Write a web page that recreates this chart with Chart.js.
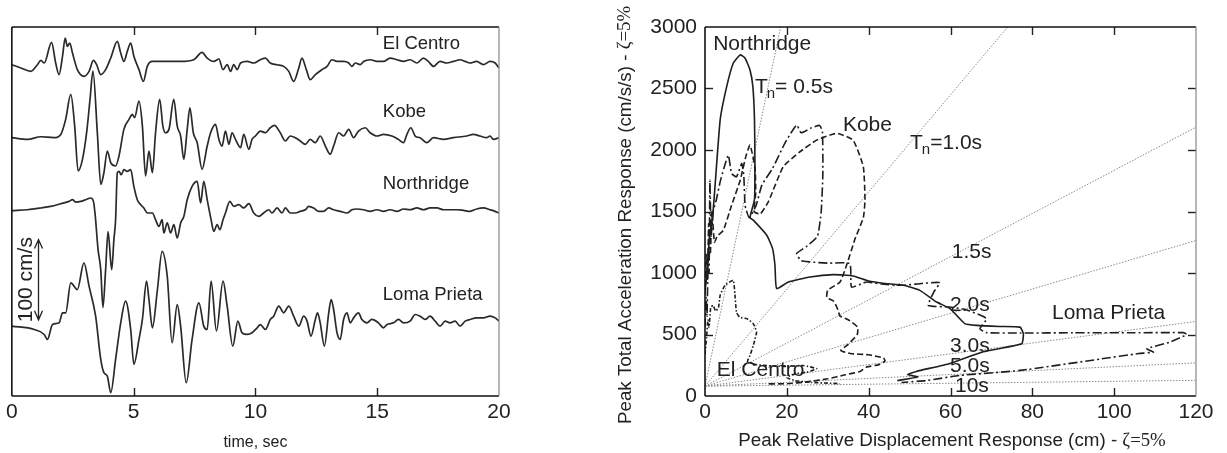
<!DOCTYPE html>
<html>
<head>
<meta charset="utf-8">
<script src="https://cdn.jsdelivr.net/npm/chart.js@4.4.1/dist/chart.umd.min.js"></script>
<style>
  html, body { margin: 0; padding: 0; background: #fff; }
  #wrap { position: relative; width: 1227px; height: 453px; overflow: hidden; }
  #velChart { position: absolute; left: 0; top: 0; width: 600px; height: 453px; }
  #specChart { position: absolute; left: 600px; top: 0; width: 627px; height: 453px; }
</style>
</head>
<body>
<div id="wrap">
  <canvas id="velChart" width="600" height="453"></canvas>
  <canvas id="specChart" width="627" height="453"></canvas>
</div>
<script>
// ---------- ground velocity records: [time (s), velocity (cm/s)] ----------
const recordNames = ['El Centro', 'Kobe', 'Northridge', 'Loma Prieta'];
const recordOffsets = [413, 322, 231, 85];   // vertical stacking offsets (cm/s)
const timeTicks = [0, 5, 10, 15, 20];

const elCentroVel = [
  [0,0],[0.37,-4.1],[0.78,-8.3],[1.05,0],[1.19,5.4],[1.33,2.1],[1.63,27.8],[1.80,2.1],[1.94,-12.4],
  [2.08,10.4],[2.19,33.2],[2.28,22.8],[2.38,27.0],[2.49,14.5],[2.69,-6.2],[2.96,-14.5],[3.17,-8.3],
  [3.35,5.4],[3.48,0],[3.65,-12.4],[3.85,-6.2],[4.06,8.3],[4.33,29.0],[4.47,14.5],[4.60,4.1],
  [4.74,16.6],[4.88,27.0],[5.01,10.4],[5.22,-6.2],[5.40,-20.7],[5.56,-2.1],[5.77,4.1],[6.38,4.1],
  [6.93,4.1],[7.47,6.2],[7.81,15.4],[8.02,8.3],[8.29,4.1],[8.50,7.1],[8.67,-6.2],[8.84,0],[8.98,-8.3],
  [9.11,0],[9.25,-6.2],[9.39,2.1],[9.66,4.1],[9.93,2.1],[10.20,6.2],[10.41,8.3],[10.61,2.1],[10.89,0],
  [11.16,-2.1],[11.37,-8.3],[11.57,-20.7],[11.78,-4.1],[11.91,8.3],[12.09,-6.2],[12.25,-18.7],
  [12.46,-12.4],[12.73,-6.2],[12.94,-2.1],[13.14,6.2],[13.35,4.1],[13.62,4.1],[13.83,2.1],[13.96,-2.1],
  [14.10,2.1],[14.30,0],[14.44,4.1],[14.71,6.2],[14.99,4.1],[15.26,4.1],[15.53,8.3],[15.81,6.2],
  [16.08,4.1],[16.35,6.2],[16.63,2.1],[16.90,8.3],[17.10,4.1],[17.31,-2.1],[17.58,4.1],[17.85,2.1],
  [18.13,4.1],[18.40,6.2],[18.61,4.1],[18.81,2.1],[19.08,4.1],[19.36,0],[19.63,4.1],[19.84,2.1],[20.00,-4.1]
];

const kobeVel = [
  [0,0],[0.64,-2.1],[1.19,1.2],[1.73,0],[2.01,4.1],[2.21,22.8],[2.42,53.9],[2.58,14.5],[2.72,-41.5],
  [2.90,-27.0],[3.07,6.2],[3.21,47.7],[3.33,82.9],[3.51,6.2],[3.65,-58.1],[3.78,-43.6],[3.92,-16.6],
  [4.06,-31.1],[4.26,-35.3],[4.40,-22.8],[4.60,10.4],[4.81,22.8],[4.95,29.0],[5.04,24.9],[5.22,45.6],
  [5.36,14.5],[5.49,-47.7],[5.63,-16.6],[5.77,-43.6],[5.90,6.2],[6.07,47.7],[6.20,14.5],[6.31,6.2],
  [6.45,10.4],[6.65,47.7],[6.79,14.5],[6.93,2.1],[7.06,-26.9],[7.20,10.4],[7.31,37.3],[7.45,6.2],
  [7.61,-6.2],[7.81,-39.4],[8.02,-10.4],[8.16,6.2],[8.36,16.6],[8.50,-2.1],[8.63,-10.4],[8.77,8.3],
  [8.91,-8.3],[9.04,6.2],[9.18,-2.1],[9.39,-12.4],[9.52,4.1],[9.73,-14.5],[9.86,-2.1],[10.00,2.1],
  [10.20,8.3],[10.41,6.2],[10.61,12.4],[10.78,15.4],[11.02,6.2],[11.23,-4.1],[11.43,2.1],[11.64,0],
  [11.84,-4.1],[12.05,-8.3],[12.25,-2.1],[12.46,-6.2],[12.66,2.1],[12.87,-10.4],[13.07,-20.7],
  [13.21,-10.4],[13.42,6.2],[13.62,2.1],[13.83,10.4],[14.03,0],[14.23,8.3],[14.51,12.4],[14.71,6.2],
  [14.99,2.1],[15.26,4.1],[15.60,2.1],[15.87,-2.1],[16.08,-6.2],[16.22,4.1],[16.38,12.4],[16.56,2.1],
  [16.76,0],[17.04,-6.2],[17.31,0],[17.72,-2.1],[18.13,0],[18.67,2.1],[18.95,4.1],[19.22,2.1],
  [19.49,0],[19.63,2.1],[19.77,-2.1],[20.00,0]
];

const northridgeVel = [
  [0,0],[0.64,1.2],[1.19,3.4],[1.60,5.4],[2.01,8.7],[2.35,11.6],[2.49,13.7],[2.62,10.8],[2.83,11.6],
  [3.03,13.7],[3.24,15.8],[3.35,11.6],[3.42,-5],[3.54,-48.6],[3.65,-73.5],[3.74,-120.8],[3.85,-73.5],
  [3.95,-26.2],[4.10,-73.5],[4.19,-36.1],[4.26,-11.2],[4.33,47.3],[4.40,49],[4.49,44.8],[4.60,51.1],
  [4.74,49],[4.88,51.1],[5.01,30.3],[5.15,13.7],[5.29,7.5],[5.42,3.4],[5.56,-2.9],[5.77,-2.9],
  [5.90,-11.2],[6.04,-19.6],[6.17,-11.2],[6.24,-27.8],[6.38,-15.3],[6.52,-27.8],[6.65,-17.4],
  [6.79,-34],[6.93,-15.3],[7.06,-7.1],[7.20,13.7],[7.40,30.3],[7.61,36.5],[7.75,9.6],[7.88,36.5],
  [8.02,13.7],[8.18,-11.2],[8.29,-25.8],[8.43,-17.4],[8.54,-23.7],[8.67,-11.2],[8.77,-2.9],[8.95,11.6],
  [9.11,5.4],[9.32,7.5],[9.52,3.4],[9.73,8.7],[9.93,-2.9],[10.14,-7.1],[10.34,-2.9],[10.55,1.2],
  [10.68,-2.9],[10.89,3.4],[11.09,-2.9],[11.23,3.4],[11.43,-2.9],[11.64,-2.9],[11.84,-0.8],[12.05,1.2],
  [12.19,5.4],[12.39,3.4],[12.60,-0.8],[12.80,-0.8],[13.01,3.4],[13.21,1.2],[13.48,-0.8],[13.76,-2.9],
  [13.96,1.2],[14.17,2.1],[14.44,1.2],[14.71,-0.8],[14.99,1.2],[15.26,-0.8],[15.53,1.2],[15.81,-0.8],
  [16.08,2.1],[16.35,1.2],[16.63,3.4],[16.90,1.2],[17.17,3.4],[17.45,3.4],[17.72,1.2],[17.99,1.2],
  [18.27,1.2],[18.54,0.4],[18.81,-0.8],[19.08,2.1],[19.36,3.4],[19.63,1.2],[19.84,-0.8],[20.00,-2.9]
];

const lomaPrietaVel = [
  [0,2.1],[0.92,-2.1],[1.33,-8.3],[1.46,-14.5],[1.67,4.1],[1.94,6.2],[2.08,18.7],[2.21,18.7],[2.42,56],
  [2.69,47.7],[2.96,80.9],[3.17,51.9],[3.44,14.5],[3.65,-39.4],[3.78,-56],[3.92,-60.2],[4.06,-80.9],
  [4.26,-39.4],[4.47,6.2],[4.67,33.2],[4.88,-2.1],[5.01,-45.6],[5.22,-14.5],[5.36,10.4],[5.53,58.1],
  [5.63,35.3],[5.77,0],[5.97,45.6],[6.17,95.4],[6.38,64.3],[6.58,-18.7],[6.79,29],[6.93,2.1],
  [7.16,-68.5],[7.40,-14.5],[7.68,31.1],[7.88,2.1],[8.02,-2.1],[8.18,58.1],[8.40,-4],[8.67,58.1],
  [8.84,27],[9.07,-22.8],[9.28,8.3],[9.45,-6.2],[9.66,-8.3],[9.86,-6.2],[10.07,0],[10.20,4.1],
  [10.41,-2.1],[10.61,10.4],[10.75,14.5],[10.96,27],[11.16,18.7],[11.37,27],[11.57,14.5],[11.78,2.1],
  [11.98,14.5],[12.12,8.3],[12.28,-10.4],[12.46,10.4],[12.55,18.7],[12.66,6.2],[12.83,-22.8],
  [13.01,18.7],[13.11,35.3],[13.21,22.8],[13.35,-6.2],[13.48,-14.5],[13.62,10.4],[13.76,18.7],
  [13.89,6.2],[14.03,12.4],[14.23,18.7],[14.37,10.4],[14.58,6.2],[14.78,10.4],[15.05,6.2],[15.26,0],
  [15.40,4.1],[15.67,6.2],[15.87,10.4],[16.08,6.2],[16.35,8.3],[16.56,16.6],[16.76,14.5],[16.97,10.4],
  [17.17,14.5],[17.38,8.3],[17.58,2.1],[17.79,8.3],[17.99,6.2],[18.20,8.3],[18.40,2.1],[18.61,8.3],
  [18.81,10.4],[19.08,12.4],[19.36,12.4],[19.63,14.5],[19.84,12.4],[20.00,8.3]
];

// ---------- response spectra: [Sd (cm), Sa (cm/s/s)] ----------
const northridgeSpec = [
  [0,850],[0.5,1000],[1.0,1250],[2.0,1510],[3.7,2243],[5.3,2515],[6.9,2705],[8.6,2773],[9.8,2746],
  [11.0,2651],[11.7,2515],[12.1,2243],[12.2,1891],[12.1,1600],[11.0,1450],[11.8,1430],[15.1,1307],
  [16.5,1200],[17.1,1063],[17.5,873],[20.4,927],[25.7,968],[31.4,987],[36.2,976],[40.0,935],[44.0,915],
  [48.5,900],[52.5,859],[56.6,764],[59.9,710],[63.5,588],[66.4,574],[72.0,565],[77.0,560],[77.8,506],
  [77.4,425],[68.0,360],[59.9,265],[51.7,200],[49.5,175],[52.0,155],[47.0,125]
];

const kobeSpec = [
  [0,820],[0.3,1150],[0.6,950],[0.9,1400],[1.3,1150],[1.7,1500],[2.3,1250],[3.0,1300],[4.5,1348],
  [6.5,1550],[8.6,1754],[10.0,1950],[11.0,2040],[12.2,1863],[12.4,1650],[12.0,1500],[13.5,1480],
  [15.5,1580],[19.1,1863],[23.0,1980],[27.3,2080],[32.2,2135],[36.2,2080],[38.7,1863],[39.1,1592],
  [38.7,1450],[36.7,1280],[34.6,1063],[33.0,927],[30.0,860],[29.8,800],[31.5,770],[32.5,700],
  [33.0,650],[35.0,620],[37.3,560],[37.2,500],[35.0,420],[33.2,370],[35.5,345],[40.0,335],[43.6,310],
  [44.0,285],[42.5,255],[39.5,235],[37.9,200],[34.0,170],[30.0,140],[25.0,115],[20.0,100],[15.0,98]
];

const lomaPrietaSpec = [
  [0,560],[0.3,800],[0.5,650],[0.8,1200],[1.0,1000],[1.2,1754],[1.5,1300],[2.0,1500],[2.8,1600],
  [3.7,1741],[4.6,1850],[5.7,1958],[6.5,1809],[7.7,1782],[9.0,1891],[9.5,1782],[9.8,1550],[10.8,1450],
  [12.5,1550],[13.9,1714],[16.5,1850],[19.6,2060],[22.4,2203],[23.5,2140],[26.0,2180],[28.0,2200],
  [28.7,2150],[28.8,1800],[28.4,1500],[27.5,1300],[25.0,1220],[22.4,1158],[23.5,1100],[25.7,1090],
  [30.0,1080],[35.4,1076],[35.8,886],[39.5,927],[43.0,910],[48.4,900],[53.0,915],[57.4,922],[56.0,850],
  [54.6,737],[59.9,723],[64.0,700],[68.8,629],[67.2,547],[68.8,515],[77.0,512],[90.0,514],[105.0,514],
  [116.9,515],[117.7,500],[113.6,438],[108.0,384],[109.6,357],[106.0,345],[96.5,300],[77.0,208],
  [62.3,167],[54.2,126],[48.0,110]
];

const elCentroSpec = [
  [0,340],[0.4,480],[0.7,620],[1.0,560],[1.4,720],[2.0,737],[2.6,690],[3.3,720],[3.7,818],[4.9,900],
  [6.9,940],[7.3,830],[7.7,680],[8.5,640],[10.2,629],[11.8,588],[12.6,520],[12.2,460],[11.8,411],
  [11.0,330],[10.4,280],[12.5,255],[16.0,245],[20.0,240],[24.0,248],[27.3,221],[24.9,194],[22.0,180],
  [20.0,150],[22.0,125],[26.0,110],[30.0,105],[33.0,100]
];

// constant-period guide lines
const periods = [0.5, 1.0, 1.5, 2.0, 3.0, 5.0, 10];
const periodLabels = ['T_n= 0.5s', 'T_n=1.0s', '1.5s', '2.0s', '3.0s', '5.0s', '10s'];
const guideOriginSa = 80;
const sdTicks = [0, 20, 40, 60, 80, 100, 120];
const saTicks = [0, 500, 1000, 1500, 2000, 2500, 3000];

// ---------- shared drawing helpers ----------
const SANS = "'Liberation Sans', Arial, Helvetica, sans-serif";
const SERIF = "'Liberation Serif', 'Times New Roman', serif";
const INK = '#222';
Chart.defaults.font.family = SANS;
Chart.defaults.color = INK;

const toXY = arr => arr.map(p => ({ x: p[0], y: p[1] }));
const plainNumber = v => String(v);

// frame and inward tick marks on all four sides
const framePlugin = {
  id: 'framePlugin',
  afterDatasetsDraw(chart, args, opts) {
    const { ctx, chartArea: a, scales } = chart;
    const seg = (x1, y1, x2, y2) => { ctx.beginPath(); ctx.moveTo(x1, y1); ctx.lineTo(x2, y2); ctx.stroke(); };
    ctx.save();
    ctx.strokeStyle = INK;
    ctx.lineWidth = 1.4;
    const tl = 8;
    scales.x.ticks.forEach(t => {
      const px = Math.round(scales.x.getPixelForValue(t.value)) + 0.5;
      if (px < a.left + 2 || px > a.right - 2) return;
      seg(px, a.bottom, px, a.bottom - tl);
      seg(px, a.top, px, a.top + tl);
    });
    if (opts.yTicks) {
      scales.y.ticks.forEach(t => {
        const py = Math.round(scales.y.getPixelForValue(t.value)) + 0.5;
        if (py < a.top + 2 || py > a.bottom - 2) return;
        seg(a.left, py, a.left + tl, py);
        seg(a.right, py, a.right - tl, py);
      });
    }
    ctx.lineWidth = 1.6;
    ctx.strokeStyle = '#111';
    seg(a.left, a.top, a.right, a.top);
    seg(a.left, a.top, a.left, a.bottom);
    seg(a.left, a.bottom, a.right, a.bottom);
    ctx.lineWidth = 1.2;
    ctx.strokeStyle = '#888';
    seg(a.right, a.top, a.right, a.bottom);
    ctx.restore();
  }
};

// ---------- velocity chart ----------
const velRecords = [elCentroVel, kobeVel, northridgeVel, lomaPrietaVel];
const velLabelAnchor = { t: 15.23, y: [439, 354, 265, 126] };
const scaleBar = { t: 1.09, from: 95, size: 100, labelT: 0.59 };

const velAnnotations = {
  id: 'velAnnotations',
  afterDatasetsDraw(chart) {
    const { ctx, scales: { x, y } } = chart;
    ctx.save();
    ctx.fillStyle = INK;
    ctx.font = `18.5px ${SANS}`;
    ctx.textBaseline = 'middle';
    ctx.textAlign = 'left';
    recordNames.forEach((n, i) => ctx.fillText(n, x.getPixelForValue(velLabelAnchor.t), y.getPixelForValue(velLabelAnchor.y[i])));

    // 100 cm/s scale arrow
    const ax = Math.round(x.getPixelForValue(scaleBar.t)) + 0.5;
    const y1 = y.getPixelForValue(scaleBar.from);
    const y2 = y.getPixelForValue(scaleBar.from + scaleBar.size);
    ctx.strokeStyle = INK;
    ctx.lineWidth = 1.3;
    ctx.beginPath();
    ctx.moveTo(ax, y1); ctx.lineTo(ax, y2);
    ctx.moveTo(ax - 4, y2 + 9); ctx.lineTo(ax, y2); ctx.lineTo(ax + 4, y2 + 9);
    ctx.moveTo(ax - 4, y1 - 9); ctx.lineTo(ax, y1); ctx.lineTo(ax + 4, y1 - 9);
    ctx.stroke();

    ctx.translate(x.getPixelForValue(scaleBar.labelT), (y1 + y2) / 2);
    ctx.rotate(-Math.PI / 2);
    ctx.textAlign = 'center';
    ctx.font = `21px ${SANS}`;
    ctx.fillText(scaleBar.size + ' cm/s', 0, 0);
    ctx.restore();
  }
};

new Chart(document.getElementById('velChart'), {
  type: 'scatter',
  data: {
    datasets: velRecords.map((rec, i) => ({
      label: recordNames[i],
      data: rec.map(p => ({ x: p[0], y: p[1] + recordOffsets[i] })),
      showLine: true,
      borderColor: '#2a2a2a',
      borderWidth: 1.7,
      pointRadius: 0,
      cubicInterpolationMode: 'monotone',
      fill: false
    }))
  },
  options: {
    responsive: false,
    animation: false,
    devicePixelRatio: 1,
    layout: { padding: { left: 11, right: 101, top: 27, bottom: 0 } },
    plugins: { legend: { display: false }, tooltip: { enabled: false }, framePlugin: { yTicks: false } },
    scales: {
      x: {
        type: 'linear', min: timeTicks[0], max: timeTicks[timeTicks.length - 1],
        afterBuildTicks: s => { s.ticks = timeTicks.map(v => ({ value: v })); },
        ticks: { font: { size: 21, lineHeight: 1 }, color: INK, padding: 6, maxRotation: 0, callback: plainNumber },
        grid: { display: false, drawTicks: false },
        border: { display: false },
        title: { display: true, text: 'time, sec', font: { size: 16, lineHeight: 1 }, color: INK, padding: { top: 0, bottom: 2 } },
        afterFit: s => { s.height = 57; }
      },
      y: { type: 'linear', min: 0, max: 460, display: false }
    }
  },
  plugins: [framePlugin, velAnnotations]
});

// ---------- response spectra chart ----------
const spectra = [
  { name: 'Northridge', data: northridgeSpec, dash: [] },
  { name: 'Kobe', data: kobeSpec, dash: [6, 3] },
  { name: 'Loma Prieta', data: lomaPrietaSpec, dash: [9, 3, 2, 3] },
  { name: 'El Centro', data: elCentroSpec, dash: [4, 2, 1.5, 2] }
];
const spectrumLabelAnchors = { Northridge: [2.0, 2862], Kobe: [33.7, 2203], 'Loma Prieta': [84.8, 676], 'El Centro': [2.9, 208] };
const periodLabelAnchors = [[12.2, 2512], [50.1, 2056], [60.3, 1168], [59.9, 737], [59.9, 407], [59.9, 244], [61.1, 81]];

const sdMax = sdTicks[sdTicks.length - 1];
const saMax = saTicks[saTicks.length - 1];
const guideLines = periods.map(T => {
  const w2 = Math.pow(2 * Math.PI / T, 2);
  const sdEnd = Math.min(sdMax, (saMax - guideOriginSa) / w2);
  return [{ x: 0, y: guideOriginSa }, { x: sdEnd, y: guideOriginSa + w2 * sdEnd }];
});

function drawMixed(ctx, parts, cx, cy) {
  let total = 0;
  parts.forEach(p => { ctx.font = p.font; p.w = ctx.measureText(p.text).width; total += p.w; });
  let x = cx - total / 2;
  ctx.textAlign = 'left';
  parts.forEach(p => { ctx.font = p.font; ctx.fillText(p.text, x, cy); x += p.w; });
}

const specAnnotations = {
  id: 'specAnnotations',
  afterDatasetsDraw(chart) {
    const { ctx, chartArea: a, scales: { x, y } } = chart;
    ctx.save();
    ctx.fillStyle = INK;
    ctx.textBaseline = 'middle';
    ctx.textAlign = 'left';
    ctx.font = `21px ${SANS}`;
    Object.keys(spectrumLabelAnchors).forEach(n => {
      const [sd, sa] = spectrumLabelAnchors[n];
      ctx.fillText(n, x.getPixelForValue(sd), y.getPixelForValue(sa));
    });
    periodLabels.forEach((lbl, i) => {
      const px = x.getPixelForValue(periodLabelAnchors[i][0]);
      const py = y.getPixelForValue(periodLabelAnchors[i][1]);
      if (lbl.startsWith('T_n')) {
        ctx.font = `21px ${SANS}`;
        ctx.fillText('T', px, py);
        const wT = ctx.measureText('T').width - 1;
        ctx.font = `15px ${SANS}`;
        ctx.fillText('n', px + wT, py + 7);
        const wn = ctx.measureText('n').width;
        ctx.font = `21px ${SANS}`;
        ctx.fillText(lbl.slice(3), px + wT + wn, py);
      } else {
        ctx.font = `21px ${SANS}`;
        ctx.fillText(lbl, px, py);
      }
    });

    // axis titles with the damping ratio set in a serif face
    drawMixed(ctx, [
      { text: 'Peak Relative Displacement Response (cm) - ', font: `18.8px ${SANS}` },
      { text: 'ζ=5%', font: `18.8px ${SERIF}` }
    ], 352, 441);

    ctx.translate(25.5, 215);
    ctx.rotate(-Math.PI / 2);
    drawMixed(ctx, [
      { text: 'Peak Total Acceleration Response (cm/s/s) - ', font: `18.8px ${SANS}` },
      { text: 'ζ=5%', font: `18.8px ${SERIF}` }
    ], 0, 0);
    ctx.restore();
  }
};

new Chart(document.getElementById('specChart'), {
  type: 'scatter',
  data: {
    datasets: [
      ...spectra.map(s => ({
        label: s.name,
        data: toXY(s.data),
        showLine: true,
        borderColor: '#1e1e1e',
        borderWidth: 1.6,
        borderDash: s.dash,
        pointRadius: 0,
        tension: 0.15,
        fill: false
      })),
      ...guideLines.map((pts, i) => ({
        label: periodLabels[i],
        data: pts,
        showLine: true,
        borderColor: '#8a8a8a',
        borderWidth: 1,
        borderDash: [1.5, 1.5],
        pointRadius: 0,
        fill: false
      }))
    ]
  },
  options: {
    responsive: false,
    animation: false,
    devicePixelRatio: 1,
    layout: { padding: { left: 0, right: 31, top: 27, bottom: 0 } },
    plugins: { legend: { display: false }, tooltip: { enabled: false }, framePlugin: { yTicks: true } },
    scales: {
      x: {
        type: 'linear', min: 0, max: sdMax,
        afterBuildTicks: s => { s.ticks = sdTicks.map(v => ({ value: v })); },
        ticks: { font: { size: 21, lineHeight: 1 }, color: INK, padding: 6, maxRotation: 0, callback: plainNumber },
        grid: { display: false, drawTicks: false },
        border: { display: false },
        afterFit: s => { s.height = 57; }
      },
      y: {
        type: 'linear', min: 0, max: saMax,
        afterBuildTicks: s => { s.ticks = saTicks.map(v => ({ value: v })); },
        ticks: { font: { size: 21, lineHeight: 1 }, color: INK, padding: 8, callback: plainNumber },
        grid: { display: false, drawTicks: false },
        border: { display: false },
        afterFit: s => { s.width = 105; }
      }
    }
  },
  plugins: [framePlugin, specAnnotations]
});
</script>
</body>
</html>
